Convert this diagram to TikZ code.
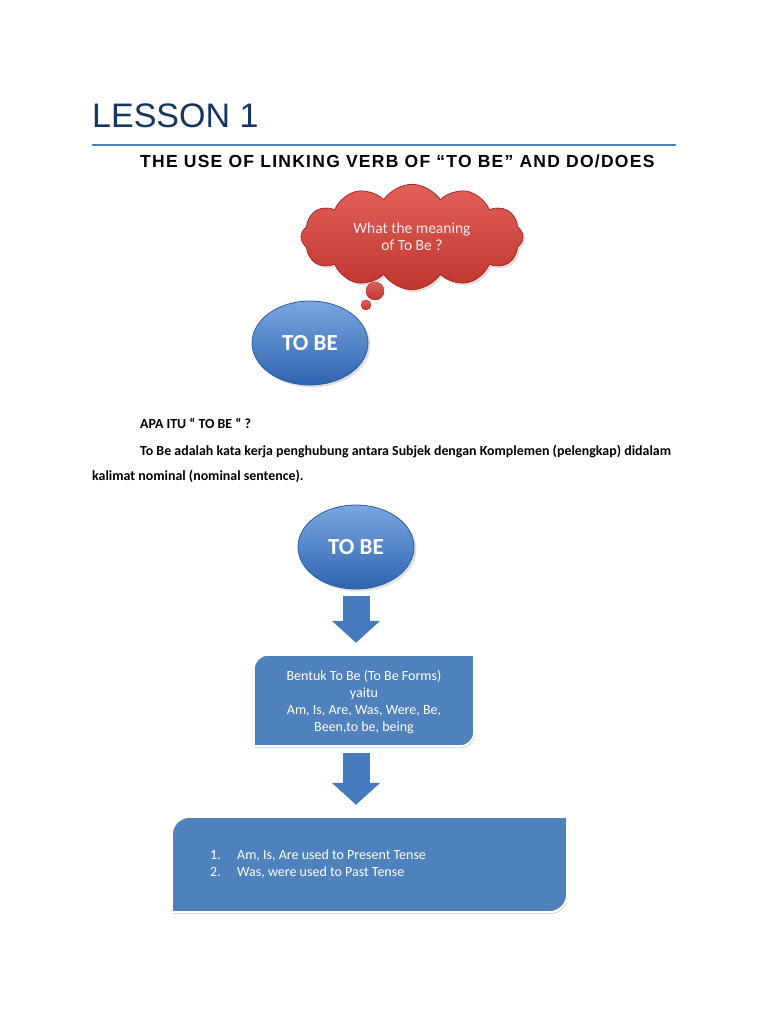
\documentclass[tikz,border=0pt]{standalone}
\usepackage{fontspec}
\setmainfont{Carlito}
\newfontfamily\arialfont{Liberation Sans}
\newfontfamily\arialwide[LetterSpace=7.3]{Liberation Sans}
\usetikzlibrary{arrows.meta,positioning,shapes.geometric,shapes.symbols,shadows}

\definecolor{TitleBlue}{HTML}{17365D}
\definecolor{RuleBlue}{HTML}{4F81BD}
\definecolor{CloudTop}{HTML}{E2605B}
\definecolor{CloudBottom}{HTML}{C0362F}
\definecolor{CloudEdge}{HTML}{A52A25}
\definecolor{OvalTop}{HTML}{7AA6E0}
\definecolor{OvalBottom}{HTML}{2D64B0}
\definecolor{OvalEdge}{HTML}{2F5E9E}
\definecolor{BoxBlue}{HTML}{4F81BD}
\definecolor{ArrowBlue}{HTML}{4679BD}

\begin{document}
\begin{tikzpicture}[x=1pt,y=-1pt,node distance=1cm,
  bodytext/.style={anchor=base west,inner sep=0pt,font=\bfseries\fontsize{13.9}{17}\selectfont},
  oval/.style={ellipse,minimum width=116pt,minimum height=84pt,top color=OvalTop,bottom color=OvalBottom,
    draw=OvalEdge,thick,text=white,font=\bfseries\fontsize{23}{26}\selectfont,drop shadow={opacity=0.25}},
  bubble/.style={circle,inner sep=0pt,top color=CloudTop,bottom color=CloudBottom,draw=CloudEdge,thin},
  blockarrow/.style={-{Triangle[width=47pt,length=22pt]},line width=27pt,draw=ArrowBlue,
    shorten <=7pt,shorten >=12pt},
  boxfill/.style={fill=BoxBlue,draw=white,line width=2pt,drop shadow={opacity=0.3,shadow xshift=1pt,shadow yshift=-2pt}},
  boxtext/.style={text=white,align=center,font=\fontsize{14}{17}\selectfont}]

\useasboundingbox (0,0) rectangle (768,1024);

\node[anchor=base west,inner sep=0pt,text=TitleBlue,font=\arialfont\fontsize{34}{40}\selectfont] (title) at (92,128) {LESSON 1};
\draw[RuleBlue,line width=1.5pt] (92,145) -- (676,145);
\node[anchor=base west,inner sep=0pt,font=\arialwide\bfseries\fontsize{17.5}{20}\selectfont] (subtitle) at (140,167.5)
  {THE USE OF LINKING VERB OF “TO BE” AND DO/DOES};

\node[cloud,cloud puffs=12,cloud puff arc=115,aspect=2.1,minimum width=222pt,minimum height=104pt,
  top color=CloudTop,bottom color=CloudBottom,draw=CloudEdge,thick,text=white!92!red,
  align=center,font=\fontsize{15.5}{17}\selectfont,drop shadow={opacity=0.25}] (cloud) at (412,237)
  {What the meaning\\of To Be ?};
\node[bubble,minimum size=18pt] (bub1) at (375,291) {};
\node[bubble,minimum size=10pt] (bub2) at (366,305) {};

\node[oval] (tobe1) at (310,343) {TO BE};

\node[bodytext] (apa) at (140,428) {APA ITU “ TO BE “ ?};
\node[bodytext] (def1) at (140,455) {To Be adalah kata kerja penghubung antara Subjek dengan Komplemen (pelengkap) didalam};
\node[bodytext] (def2) at (92,480) {kalimat nominal (nominal sentence).};

\node[oval] (tobe2) at (356,547) {TO BE};

\node[minimum width=220pt,minimum height=91pt,inner sep=0pt] (forms) at (364,700.5) {};
\path[boxfill] (forms.north east) -- ([xshift=14pt]forms.north west) arc[start angle=90,end angle=180,radius=14pt]
  -- (forms.south west) -- ([xshift=-14pt]forms.south east) arc[start angle=270,end angle=360,radius=14pt] -- cycle;
\node[boxtext] at ([yshift=-2pt]forms) {Bentuk To Be (To Be Forms)\\yaitu\\Am, Is, Are, Was, Were, Be,\\Been,to be, being};

\node[minimum width=395pt,minimum height=95pt,inner sep=0pt] (usage) at (369.5,864.5) {};
\path[boxfill] (usage.north east) -- ([xshift=18pt]usage.north west) arc[start angle=90,end angle=180,radius=18pt]
  -- (usage.south west) -- ([xshift=-18pt]usage.south east) arc[start angle=270,end angle=360,radius=18pt] -- cycle;
\node[boxtext,anchor=west,inner sep=0pt,align=left] at (210,865)
  {\begin{tabular}{@{}p{27pt}@{}l@{}}1.&Am, Is, Are used to Present Tense\\2.&Was, were used to Past Tense\end{tabular}};

\path (tobe2.south) edge[blockarrow] (tobe2.south |- forms.north)
      (tobe2.south |- forms.south) edge[blockarrow] (tobe2.south |- usage.north);
\end{tikzpicture}
\end{document}
